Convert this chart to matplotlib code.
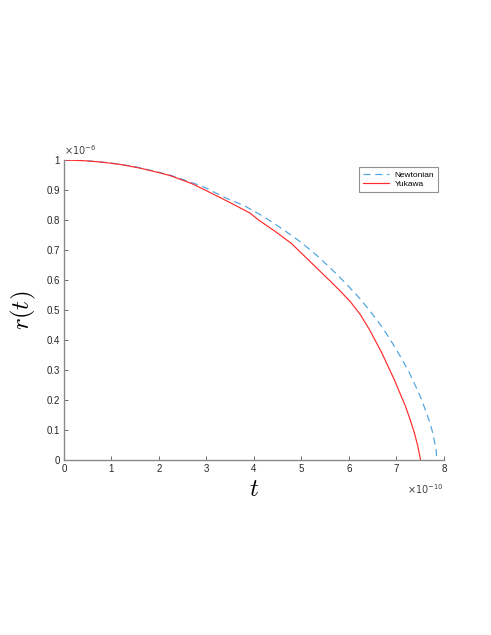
import numpy as np
import matplotlib
matplotlib.use("Agg")
import matplotlib.pyplot as plt

plt.rcParams['font.family'] = ['Liberation Sans', 'DejaVu Sans']
plt.rcParams['mathtext.fontset'] = 'cm'

# time in units of 1e-10, radius in units of 1e-6
t_newton = [0.0, 0.5, 1.0, 1.5, 1.97, 2.27, 2.91, 3.43, 3.79, 4.20, 4.60, 5.00,
            5.33, 5.65, 5.96, 6.25, 6.50, 6.73, 6.93, 7.11, 7.27, 7.40, 7.52,
            7.61, 7.69, 7.75, 7.79, 7.82, 7.84, 7.85]
r_newton = [1.0, 0.9975, 0.990, 0.978, 0.9605, 0.948, 0.9127, 0.872, 0.8484,
            0.812, 0.7702, 0.725, 0.6812, 0.634, 0.585, 0.535, 0.4854, 0.436,
            0.3864, 0.338, 0.2919, 0.248, 0.2058, 0.167, 0.1313, 0.100,
            0.0716, 0.047, 0.0289, 0.0]

t_yukawa = [0.0, 0.4, 0.8, 1.2, 1.6, 2.0, 2.24, 2.70, 3.10, 3.50, 3.92, 4.10,
            4.45, 4.79, 5.20, 5.61, 5.82, 6.03, 6.24, 6.44, 6.70, 6.95, 7.19,
            7.30, 7.38, 7.45, 7.51]
r_yukawa = [1.0, 0.998, 0.993, 0.985, 0.973, 0.958, 0.948, 0.921, 0.890,
            0.858, 0.823, 0.800, 0.762, 0.722, 0.659, 0.596, 0.563, 0.528,
            0.485, 0.433, 0.355, 0.270, 0.180, 0.130, 0.090, 0.047, 0.0]

xticks = [0, 1, 2, 3, 4, 5, 6, 7, 8]
yticks = [0, 0.1, 0.2, 0.3, 0.4, 0.5, 0.6, 0.7, 0.8, 0.9, 1]
ylabels = ['0', '0.1', '0.2', '0.3', '0.4', '0.5', '0.6', '0.7', '0.8', '0.9', '1']

fig = plt.figure(figsize=(4.91, 6.35), dpi=100)
ax = fig.add_axes([0.130, 0.2756, 0.774, 0.4724])

ax.plot(t_newton, r_newton, color='#4DA3DF', linestyle=(0, (6, 4)), lw=0.85,
        label='Newtonian')
ax.plot(t_yukawa, r_yukawa, color='#FF2A2A', lw=0.85, label='Yukawa')

ax.set_xlim(0, 8)
ax.set_ylim(0, 1)
ax.set_xticks(xticks)
ax.set_yticks(yticks)
ax.set_yticklabels(ylabels)

for side in ['top', 'right']:
    ax.spines[side].set_visible(False)
for side in ['left', 'bottom']:
    ax.spines[side].set_color('#8a8a8a')
    ax.spines[side].set_linewidth(1.0)
ax.tick_params(direction='in', length=3, width=0.6, color='#555555',
               labelsize=7, labelcolor='#262626', pad=3)

ax.set_xlabel('$t$', fontsize=18, labelpad=2)
ax.set_ylabel('$r(t)$', fontsize=18, labelpad=6)

# exponent labels like MATLAB
ax.text(0.0, 1.01, r'$\times10^{-6}$', transform=ax.transAxes, fontsize=7,
        color='#404040', ha='left', va='bottom',
        math_fontfamily='dejavusans')
ax.text(1.0, -0.075, r'$\times10^{-10}$', transform=ax.transAxes, fontsize=7,
        color='#404040', ha='right', va='top',
        math_fontfamily='dejavusans')

leg = ax.legend(loc='upper right', bbox_to_anchor=(0.995, 0.99), fontsize=6,
                frameon=True, fancybox=False, handlelength=3.2,
                borderpad=0.45, labelspacing=0.2, handletextpad=0.6)
leg.get_frame().set_edgecolor('#777777')
leg.get_frame().set_linewidth(0.8)

fig.savefig('out.png', dpi=100)
